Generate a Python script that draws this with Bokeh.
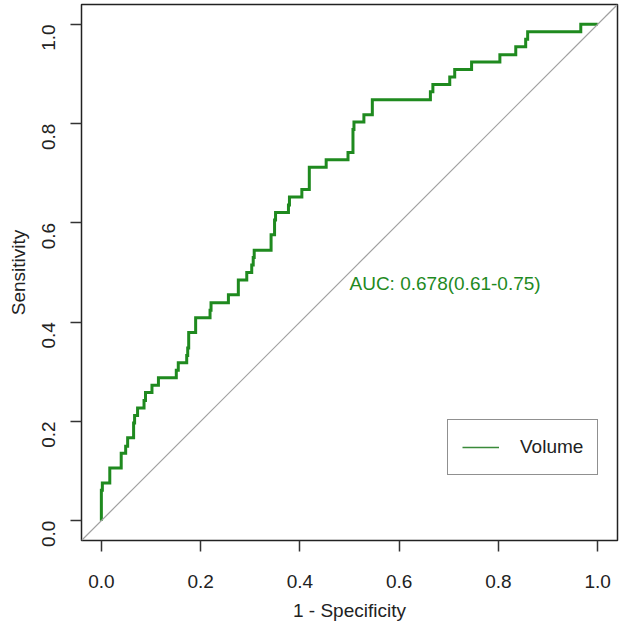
import math
from bokeh.plotting import figure
from bokeh.models import Range1d, Label, Legend, LegendItem, Slope
from bokeh.embed import file_html
from bokeh.resources import INLINE

# ROC coordinates (1 - specificity, sensitivity)
fpr = [0.000, 0.000, 0.002, 0.002, 0.017, 0.017, 0.040, 0.040, 0.049, 0.049,
       0.053, 0.053, 0.065, 0.065, 0.067, 0.067, 0.073, 0.073, 0.086, 0.086,
       0.089, 0.089, 0.102, 0.102, 0.115, 0.115, 0.151, 0.151, 0.155, 0.155,
       0.172, 0.172, 0.174, 0.174, 0.176, 0.176, 0.190, 0.190, 0.219, 0.219,
       0.221, 0.221, 0.256, 0.256, 0.276, 0.276, 0.293, 0.293, 0.303, 0.303,
       0.306, 0.306, 0.308, 0.308, 0.342, 0.342, 0.349, 0.349, 0.351, 0.351,
       0.377, 0.377, 0.379, 0.379, 0.404, 0.404, 0.419, 0.419, 0.453, 0.453,
       0.497, 0.497, 0.507, 0.507, 0.509, 0.509, 0.529, 0.529, 0.546, 0.546,
       0.663, 0.663, 0.668, 0.668, 0.702, 0.702, 0.712, 0.712, 0.746, 0.746,
       0.803, 0.803, 0.835, 0.835, 0.855, 0.855, 0.859, 0.859, 0.966, 0.966,
       1.000]
tpr = [0.000, 0.061, 0.061, 0.076, 0.076, 0.106, 0.106, 0.136, 0.136, 0.150,
       0.150, 0.167, 0.167, 0.197, 0.197, 0.212, 0.212, 0.227, 0.227, 0.242,
       0.242, 0.258, 0.258, 0.273, 0.273, 0.288, 0.288, 0.303, 0.303, 0.318,
       0.318, 0.333, 0.333, 0.348, 0.348, 0.379, 0.379, 0.409, 0.409, 0.424,
       0.424, 0.439, 0.439, 0.455, 0.455, 0.485, 0.485, 0.500, 0.500, 0.515,
       0.515, 0.530, 0.530, 0.545, 0.545, 0.576, 0.576, 0.606, 0.606, 0.621,
       0.621, 0.636, 0.636, 0.652, 0.652, 0.667, 0.667, 0.712, 0.712, 0.727,
       0.727, 0.742, 0.742, 0.788, 0.788, 0.803, 0.803, 0.818, 0.818, 0.848,
       0.848, 0.864, 0.864, 0.879, 0.879, 0.894, 0.894, 0.909, 0.909, 0.924,
       0.924, 0.939, 0.939, 0.955, 0.955, 0.970, 0.970, 0.985, 0.985, 1.000,
       1.000]

ticks = [0.0, 0.2, 0.4, 0.6, 0.8, 1.0]
tick_labels = ["0.0", "0.2", "0.4", "0.6", "0.8", "1.0"]
series_name = "Volume"
auc_text = "AUC: 0.678(0.61-0.75)"
x_title = "1 - Specificity"
y_title = "Sensitivity"

FONT = "Liberation Sans"
FS = "19px"
GREEN = "#1f8a1f"
DARK = "#222222"

p = figure(width=621, height=628, output_backend="svg", toolbar_location=None,
           x_range=Range1d(-0.04, 1.04), y_range=Range1d(-0.04, 1.04),
           min_border_left=81, min_border_right=4, min_border_top=4,
           min_border_bottom=88)
p.background_fill_color = "white"
p.border_fill_color = "white"
p.outline_line_color = DARK
p.outline_line_width = 1.5
p.grid.visible = False

overrides = {t: s for t, s in zip(ticks, tick_labels)}
for ax in (p.xaxis[0], p.yaxis[0]):
    ax.ticker = ticks
    ax.major_label_overrides = overrides
    ax.axis_line_color = None
    ax.major_tick_in = 0
    ax.major_tick_out = 11
    ax.major_tick_line_color = "#333333"
    ax.major_tick_line_width = 1.5
    ax.minor_tick_line_color = None
    ax.major_label_text_font = FONT
    ax.major_label_text_font_size = FS
    ax.major_label_text_color = DARK
    ax.axis_label_text_font = FONT
    ax.axis_label_text_font_size = FS
    ax.axis_label_text_font_style = "normal"
    ax.axis_label_text_color = DARK

p.xaxis.axis_label = x_title
p.yaxis.axis_label = y_title
p.xaxis.major_label_standoff = 23
p.xaxis.axis_label_standoff = 9
p.yaxis.major_label_orientation = math.pi / 2
p.yaxis.major_label_standoff = 22
p.yaxis.axis_label_standoff = 4

# reference diagonal
p.add_layout(Slope(gradient=1, y_intercept=0, line_color="#a0a0a0", line_width=1.2))

# thin line (used for the legend), covered by the thick ROC curve
legend_line = p.line(fpr, tpr, line_color="#3a8a3a", line_width=1.5)
# ROC curve
p.line(fpr, tpr, line_color=GREEN, line_width=3, line_join="miter")

legend = Legend(items=[LegendItem(label=series_name, renderers=[legend_line])],
                location=(366, 65), margin=0, padding=14, glyph_width=37,
                label_standoff=21, label_height=26, glyph_height=26,
                label_text_font=FONT, label_text_font_size=FS,
                label_text_color=DARK, border_line_color=DARK,
                border_line_width=1.2, background_fill_color="white",
                background_fill_alpha=1.0)
p.add_layout(legend)

p.add_layout(Label(x=0.5, y=0.5, text=auc_text, text_align="left",
                   text_baseline="top", text_font=FONT, text_font_size=FS,
                   text_color=GREEN))

open("out.html", "w").write(file_html(p, INLINE))
